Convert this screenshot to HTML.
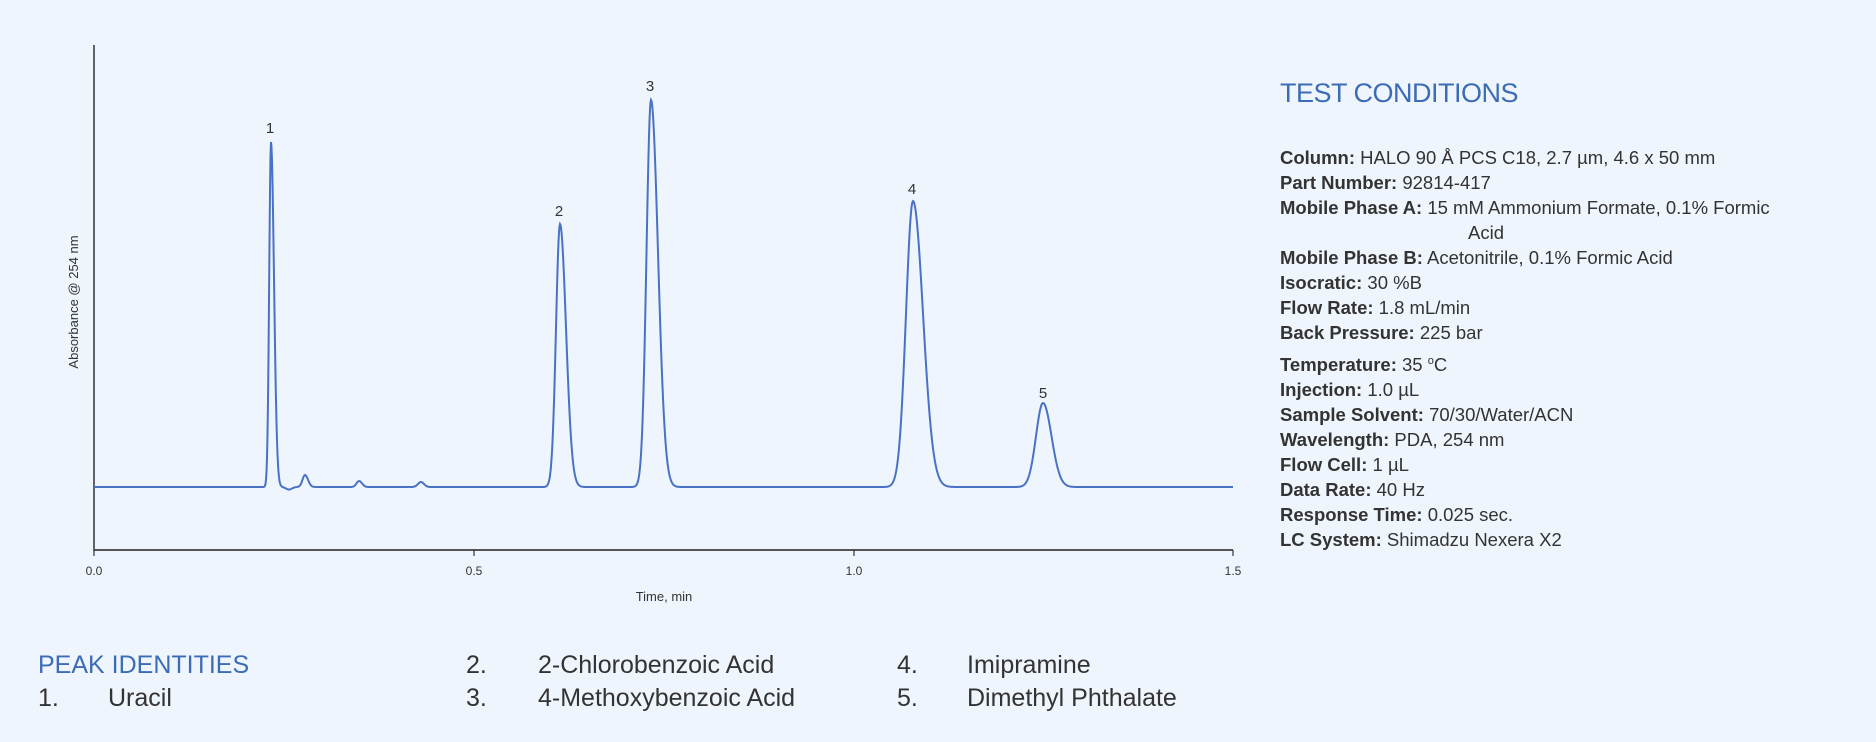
<!DOCTYPE html>
<html><head><meta charset="utf-8"><style>
html,body{margin:0;padding:0;background:#eff5fc;}
body{width:1876px;height:742px;position:relative;overflow:hidden;font-family:"Liberation Sans",sans-serif;}
.t{position:absolute;white-space:nowrap;}
.tc{left:1280px;top:78px;font-size:27px;color:#3d6cb6;letter-spacing:-0.5px;}
.cond{left:1280px;top:145px;font-size:18.5px;color:#333;line-height:25px;}
.cond b{font-weight:bold;}
.pk{font-size:25px;color:#333;}
</style></head><body>
<svg width="1876" height="742" style="position:absolute;left:0;top:0">
<line x1="94" y1="45" x2="94" y2="551" stroke="#333" stroke-width="1.5"/>
<line x1="94" y1="550" x2="1233" y2="550" stroke="#555" stroke-width="2"/>
<g stroke="#333" stroke-width="1.2"><line x1="94" y1="550" x2="94" y2="556"/><line x1="474" y1="550" x2="474" y2="556"/><line x1="854" y1="550" x2="854" y2="556"/><line x1="1233" y1="550" x2="1233" y2="556"/></g>
<g font-family="Liberation Sans, sans-serif" font-size="12" fill="#333" text-anchor="middle">
<text x="94" y="575">0.0</text><text x="474" y="575">0.5</text><text x="854" y="575">1.0</text><text x="1233" y="575">1.5</text>
<text x="664" y="601" font-size="13">Time, min</text>
<text transform="translate(78,302) rotate(-90)" font-size="13">Absorbance @ 254 nm</text>
<g font-size="15"><text x="270" y="133">1</text><text x="559" y="216">2</text><text x="650" y="91">3</text><text x="912" y="194">4</text><text x="1043" y="398">5</text></g>
</g>
<path id="c" fill="none" stroke="#4a72c4" stroke-width="2"/>
</svg>
<div class="t tc">TEST CONDITIONS</div>
<div class="t cond">
<div><b>Column:</b> HALO 90 Å PCS C18, 2.7 µm, 4.6 x 50 mm</div>
<div><b>Part Number:</b> 92814-417</div>
<div><b>Mobile Phase A:</b> 15 mM Ammonium Formate, 0.1% Formic</div>
<div style="padding-left:188px">Acid</div>
<div><b>Mobile Phase B:</b> Acetonitrile, 0.1% Formic Acid</div>
<div><b>Isocratic:</b> 30 %B</div>
<div><b>Flow Rate:</b> 1.8 mL/min</div>
<div><b>Back Pressure:</b> 225 bar</div>
<div style="margin-top:4px"><b>Temperature:</b> 35 <sup style="font-size:11px">o</sup>C</div>
<div><b>Injection:</b> 1.0 µL</div>
<div><b>Sample Solvent:</b> 70/30/Water/ACN</div>
<div><b>Wavelength:</b> PDA, 254 nm</div>
<div><b>Flow Cell:</b> 1 µL</div>
<div><b>Data Rate:</b> 40 Hz</div>
<div><b>Response Time:</b> 0.025 sec.</div>
<div><b>LC System:</b> Shimadzu Nexera X2</div>
</div>
<div class="t pk" style="left:38px;top:651px;color:#3d6cb6">PEAK IDENTITIES</div>
<div class="t pk" style="left:38px;top:684px">1.</div><div class="t pk" style="left:108px;top:684px">Uracil</div>
<div class="t pk" style="left:466px;top:651px">2.</div><div class="t pk" style="left:538px;top:651px">2-Chlorobenzoic Acid</div>
<div class="t pk" style="left:466px;top:684px">3.</div><div class="t pk" style="left:538px;top:684px">4-Methoxybenzoic Acid</div>
<div class="t pk" style="left:897px;top:651px">4.</div><div class="t pk" style="left:967px;top:651px">Imipramine</div>
<div class="t pk" style="left:897px;top:684px">5.</div><div class="t pk" style="left:967px;top:684px">Dimethyl Phthalate</div>
<script>
var base=487;
var P=[[271,345,1.8,3],[305,12,2.5,3],[359,6,2.5,3],[421,5,3,3],[560,263,4,6],[651,387,4.5,7],[913,286,7,10],[1043,84,7,8.5]];
var d="";
for(var x=94;x<=1233;x+=0.5){var y=base;
for(var i=0;i<P.length;i++){var p=P[i],dx=x-p[0],s=dx<0?p[2]:p[3];y-=p[1]*Math.exp(-dx*dx/(2*s*s));}
if(x>282&&x<300){var q=x-289;y+=2.5*Math.exp(-q*q/18);}
d+=(x==94?"M":"L")+x+" "+y.toFixed(2);}
document.getElementById("c").setAttribute("d",d);
</script>
</body></html>
